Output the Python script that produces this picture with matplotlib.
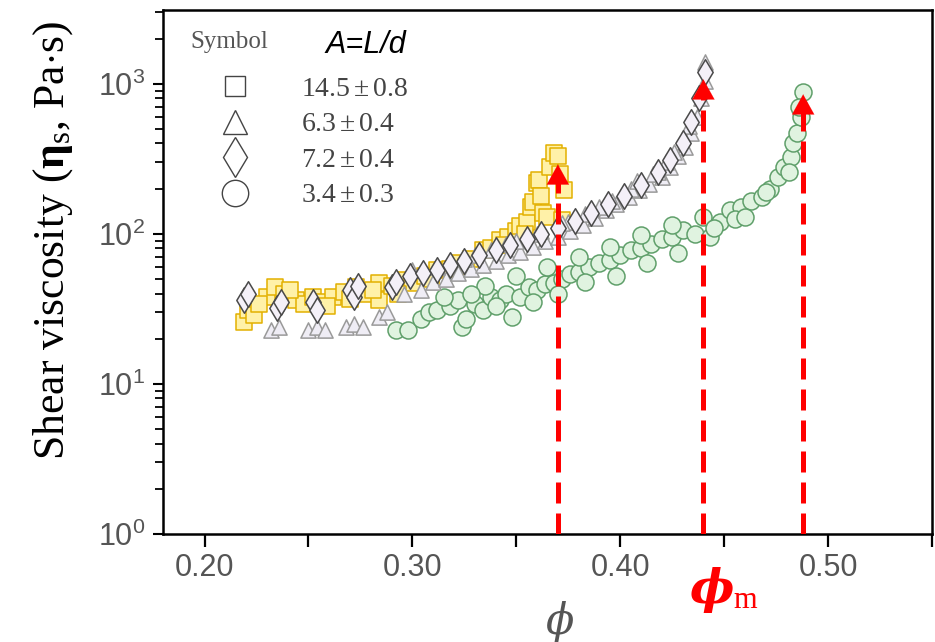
import matplotlib
matplotlib.use('Agg')
import matplotlib.pyplot as plt
from matplotlib.lines import Line2D
from matplotlib.ticker import FixedLocator, FormatStrFormatter

plt.rcParams['mathtext.fontset'] = 'custom'
plt.rcParams['mathtext.rm'] = 'Liberation Serif'
plt.rcParams['mathtext.it'] = 'Liberation Serif:italic'
plt.rcParams['mathtext.bf'] = 'Liberation Serif:bold'

# data (phi, viscosity in Pa.s)
sq_phi = [0.219, 0.221, 0.224, 0.230, 0.234, 0.238, 0.244, 0.248, 0.252, 0.257, 0.262, 0.267,
          0.273, 0.278, 0.284, 0.284, 0.290, 0.296, 0.300, 0.306, 0.312, 0.318, 0.323, 0.328,
          0.334, 0.338, 0.342, 0.346, 0.350, 0.352, 0.355, 0.357, 0.358, 0.360, 0.361, 0.363,
          0.365, 0.366, 0.368, 0.370, 0.372, 0.373,
          0.226, 0.241, 0.259, 0.270, 0.281, 0.293, 0.309, 0.326, 0.344, 0.354, 0.362, 0.371]
sq_eta = [26, 31, 29, 38, 44, 40, 36, 34, 38, 35, 38, 41,
          44, 40, 47, 36, 45, 49, 47, 52, 57, 58, 64, 68,
          78, 80, 91, 95, 105, 112, 120, 152, 162, 219, 229, 138,
          130, 280, 347, 330, 124, 196,
          34, 42, 33, 37, 42, 40, 50, 60, 84, 100, 180, 250]

tr_phi = [0.232, 0.236, 0.250, 0.254, 0.258, 0.268, 0.272, 0.276, 0.284, 0.288, 0.296, 0.300,
          0.304, 0.310, 0.316, 0.322, 0.328, 0.334, 0.340, 0.346, 0.352, 0.358, 0.364, 0.370,
          0.376, 0.382, 0.388, 0.393, 0.398, 0.404, 0.409, 0.414, 0.420, 0.424, 0.428, 0.431,
          0.434, 0.437, 0.439, 0.441,
          0.330, 0.345, 0.360, 0.375, 0.390, 0.405, 0.418, 0.426,
          0.312, 0.325, 0.338, 0.350, 0.362, 0.372, 0.383, 0.396, 0.408, 0.416, 0.422, 0.433, 0.441]
tr_eta = [23, 24, 23, 24, 23, 24, 25, 24, 28, 30, 40, 57,
          42, 48, 50, 55, 58, 62, 66, 72, 76, 82, 90, 95,
          104, 115, 128, 145, 158, 175, 196, 215, 240, 280, 330, 380,
          470, 600, 800, 1050,
          72, 85, 100, 120, 150, 200, 260, 350,
          60, 68, 78, 90, 105, 118, 135, 165, 225, 250, 300, 520, 1400]

dm_phi = [0.219, 0.221, 0.235, 0.237, 0.252, 0.254, 0.270, 0.272, 0.274, 0.290, 0.292, 0.299,
          0.305, 0.312, 0.318, 0.325, 0.332, 0.340, 0.347, 0.355, 0.362, 0.370, 0.378, 0.386,
          0.394, 0.402, 0.410, 0.418, 0.424, 0.430, 0.434, 0.438, 0.441]
dm_eta = [36, 40, 32, 35, 35, 31, 42, 38, 45, 44, 48, 52,
          55, 57, 62, 66, 72, 78, 84, 92, 100, 110, 122, 138,
          158, 180, 210, 260, 310, 400, 560, 800, 1200]

ci_phi = [0.292, 0.298, 0.304, 0.308, 0.312, 0.318, 0.322, 0.324, 0.326, 0.330, 0.334, 0.338,
          0.342, 0.345, 0.348, 0.352, 0.356, 0.360, 0.364, 0.368, 0.372, 0.376, 0.380, 0.385,
          0.390, 0.395, 0.400, 0.405, 0.410, 0.415, 0.420, 0.425, 0.430, 0.436, 0.443, 0.448,
          0.453, 0.458, 0.463, 0.468, 0.472, 0.476, 0.479, 0.482, 0.483, 0.485, 0.487, 0.488,
          0.335, 0.350, 0.365, 0.380, 0.395, 0.410, 0.425, 0.440, 0.455,
          0.315, 0.328, 0.340, 0.358, 0.370, 0.383, 0.398, 0.413, 0.428, 0.445, 0.460, 0.470,
          0.481, 0.486]
ci_eta = [23, 23, 27, 30, 31, 33, 36, 24, 27, 34, 31, 38,
          36, 40, 28, 38, 44, 42, 46, 47, 50, 54, 56, 60,
          64, 67, 72, 78, 80, 86, 92, 95, 106, 100, 95, 120,
          145, 150, 165, 177, 200, 240, 280, 324, 400, 470, 600, 880,
          45, 52, 60, 70, 82, 98, 115, 130, 125,
          38, 40, 33, 35, 40, 48, 52, 64, 75, 110, 130, 190,
          260, 700]

arrow_phi = [0.370, 0.440, 0.488]
arrow_tip = [290, 1070, 850]

legend_labels = [r'$14.5\pm0.8$', r'$6.3\pm0.4$', r'$7.2\pm0.4$', r'$3.4\pm0.3$']
xticks = [0.20, 0.30, 0.40, 0.50]
xminor = [0.25, 0.35, 0.45, 0.55]

fig = plt.figure(figsize=(9.35, 6.42), dpi=100)
ax = fig.add_axes([163/935, 1 - 534/642, (932 - 163)/935, (534 - 10)/642])

ax.scatter(ci_phi, ci_eta, s=150, marker='o', facecolor='#e0f3e0', edgecolor='#5f9f6a', linewidth=1.1, zorder=2)
ax.scatter(sq_phi, sq_eta, s=125, marker='s', facecolor='#fff1a8', edgecolor='#e3b000', linewidth=1.1, zorder=3)
ax.scatter(tr_phi, tr_eta, s=120, marker='^', facecolor='#efedf5', edgecolor='#9a9a9a', linewidth=1.1, zorder=4)
ax.scatter(dm_phi, dm_eta, s=170, marker='d', facecolor='#f4f0f8', edgecolor='#4a4a4a', linewidth=1.1, zorder=5)

# red dashed arrows marking phi_m
for xp, tip in zip(arrow_phi, arrow_tip):
    ax.plot([xp, xp], [1, tip * 0.80], color='red', lw=3.6, dashes=(4.2, 2), zorder=6,
            dash_capstyle='butt')
    ax.annotate('', xy=(xp, tip), xytext=(xp, tip * 0.78),
                arrowprops=dict(arrowstyle='-|>,head_length=0.9,head_width=0.5', color='red',
                                lw=0.1, mutation_scale=16, shrinkA=0, shrinkB=0), zorder=7)

ax.set_yscale('log')
ax.set_xlim(0.18, 0.55)
ax.set_ylim(1, 3100)

ax.xaxis.set_major_locator(FixedLocator(xticks))
ax.xaxis.set_minor_locator(FixedLocator(xminor))
ax.xaxis.set_major_formatter(FormatStrFormatter('%.2f'))

for sp in ax.spines.values():
    sp.set_linewidth(1.8)
ax.tick_params(axis='x', which='both', direction='out', length=9, width=1.6, pad=5,
               labelsize=22, labelcolor='#555555', top=False)
ax.tick_params(axis='y', which='major', direction='out', length=7, width=1.5, pad=6,
               labelsize=22, labelcolor='#555555', right=False)
ax.tick_params(axis='y', which='minor', direction='out', length=5.5, width=1.3, right=False)
for lab in ax.get_xticklabels() + ax.get_yticklabels():
    lab.set_fontfamily('Liberation Sans')

ax.set_ylabel(r'Shear viscosity ($\mathbf{η}_{\mathrm{s}}$, Pa$\cdot$s)', fontsize=31.5,
              family='Liberation Serif')
ax.yaxis.set_label_coords(-0.115, 0.56)

# x label and phi_m
fig.text(560/935, 1 - 622/642, 'ϕ', fontsize=30, style='italic', family='DejaVu Serif',
         color='#555555', ha='center', va='center')
fig.text(712/935, 1 - 590/642, 'ϕ', fontsize=34, style='italic', weight='bold',
         family='DejaVu Serif', color='red', ha='center', va='center')
fig.text(733/935, 1 - 600/642, 'm', fontsize=22, family='Liberation Serif', color='red',
         ha='left', va='center')

# legend block
fig.text(190/935, 1 - 42/642, 'Symbol', fontsize=18, family='Liberation Serif', color='#555555',
         ha='left', va='center')
fig.text(325/935, 1 - 45/642, 'A=L/d', fontsize=22, family='Liberation Sans', style='italic',
         color='black', ha='left', va='center')
handles = [Line2D([], [], ls='none', marker='s', ms=15, mfc='none', mec='#444444', mew=1),
           Line2D([], [], ls='none', marker='^', ms=17, mfc='none', mec='#444444', mew=1),
           Line2D([], [], ls='none', marker='d', ms=20, mfc='none', mec='#444444', mew=1),
           Line2D([], [], ls='none', marker='o', ms=19, mfc='none', mec='#444444', mew=1)]
leg = ax.legend(handles, legend_labels, loc='upper left', bbox_to_anchor=(0.05, 0.915),
                frameon=False, fontsize=20, labelspacing=0.27, handletextpad=1.9,
                handlelength=1.0, borderpad=0.2)
for t in leg.get_texts():
    t.set_color('#444444')

fig.savefig('out.png', dpi=100)
